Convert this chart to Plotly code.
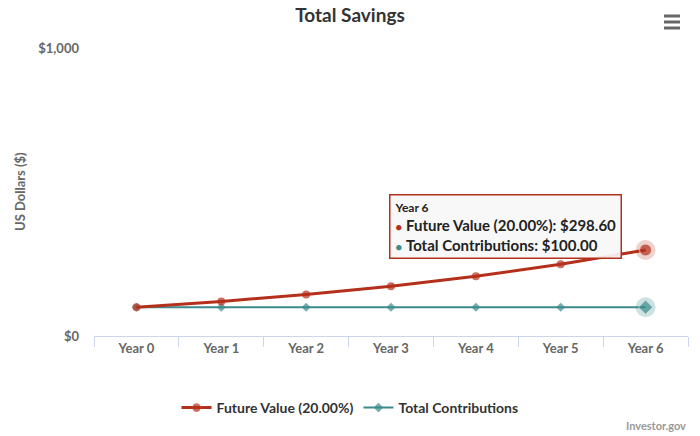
import plotly.graph_objects as go

years = ["Year 0", "Year 1", "Year 2", "Year 3", "Year 4", "Year 5", "Year 6"]
future_value = [100.00, 120.00, 144.00, 172.80, 207.36, 248.83, 298.60]
contributions = [100.00, 100.00, 100.00, 100.00, 100.00, 100.00, 100.00]
y_ticks = [0, 1000]
y_tick_labels = ["<b>$0</b>", "<b>$1,000</b>"]
x_tick_labels = ["<b>" + y + "</b>" for y in years]

RED = "#b5301b"
TEAL = "#3d8a8c"
FONT = "Lato, Open Sans, DejaVu Sans, sans-serif"

fig = go.Figure()

fig.add_trace(go.Scatter(x=years, y=contributions, mode="lines+markers",
                         name="<b>Total Contributions</b>",
                         line=dict(color=TEAL, width=2),
                         marker=dict(symbol="diamond", size=[7]*6 + [11], color=TEAL,
                                     line=dict(color="white", width=[0]*6 + [1]))))
fig.add_trace(go.Scatter(x=years, y=future_value, mode="lines+markers",
                         name="<b>Future Value (20.00%)</b>",
                         line=dict(color=RED, width=3),
                         marker=dict(symbol="circle", size=[8]*6 + [12], color=RED,
                                     line=dict(color="white", width=[0]*6 + [1]))))

# hover halos on the last point
fig.add_trace(go.Scatter(x=[years[-1]], y=[future_value[-1]], mode="markers",
                         marker=dict(size=20, color="rgba(181,48,27,0.22)"),
                         showlegend=False, hoverinfo="skip"))
fig.add_trace(go.Scatter(x=[years[-1]], y=[contributions[-1]], mode="markers",
                         marker=dict(size=20, color="rgba(61,138,140,0.25)"),
                         showlegend=False, hoverinfo="skip"))

tooltip = (
    "<span style='font-size:12px'><b>Year 6</b></span><br>"
    f"<span style='color:{RED};font-size:11px'>●</span> <b>Future Value (20.00%): ${future_value[-1]:.2f}</b><br>"
    f"<span style='color:{TEAL};font-size:11px'>●</span> <b>Total Contributions: ${contributions[-1]:.2f}</b>"
)

fig.add_annotation(x=(389 - 94) / 594, y=(336 - 194) / 288, xref="paper", yref="paper",
                   xanchor="left", yanchor="top",
                   text=tooltip, showarrow=False, align="left",
                   font=dict(family=FONT, size=15, color="#222222"),
                   bgcolor="rgba(247,247,247,0.92)", bordercolor=RED, borderwidth=1.5,
                   borderpad=4)

fig.add_annotation(x=1.0, y=(336 - 434) / 288, xref="paper", yref="paper",
                   xanchor="right", yanchor="bottom",
                   text="<b>Investor.gov</b>", showarrow=False,
                   font=dict(family=FONT, size=11, color="#999999"))

# y axis title
fig.add_annotation(x=(20 - 94) / 594, y=0.5, xref="paper", yref="paper",
                   xanchor="center", yanchor="middle", textangle=-90,
                   text="<b>US Dollars ($)</b>", showarrow=False,
                   font=dict(family=FONT, size=13, color="#666666"))

# menu icon
for dy in [16, 22, 28]:
    fig.add_shape(type="line", xref="paper", yref="paper",
                  x0=(664 - 94) / 594, x1=(680 - 94) / 594,
                  y0=(336 - dy) / 288, y1=(336 - dy) / 288,
                  line=dict(color="#666666", width=3))

fig.update_layout(
    width=700, height=436,
    margin=dict(l=94, r=12, t=48, b=100),
    paper_bgcolor="white", plot_bgcolor="white",
    title=dict(text="<b>Total Savings</b>", x=0.5, xanchor="center", y=(436 - 9) / 436, yanchor="top",
               font=dict(family=FONT, size=19, color="#333333")),
    font=dict(family=FONT, color="#666666"),
    showlegend=True,
    legend=dict(orientation="h", x=(350 - 94) / 594, xanchor="center", y=(336 - 408) / 288, yanchor="middle",
                traceorder="reversed", font=dict(family=FONT, size=14, color="#333333"),
                itemwidth=30),
    xaxis=dict(type="category", categoryorder="array", categoryarray=years,
               tickvals=years, ticktext=x_tick_labels,
               range=[-0.5, 6.5], showgrid=False, automargin=False,
               showline=True, linecolor="#ccd6eb", linewidth=1,
               ticks="outside", tickson="boundaries", ticklen=10, tickcolor="#ccd6eb",
               tickfont=dict(family=FONT, size=13, color="#666666")),
    yaxis=dict(range=[0, 1000], tickvals=y_ticks, ticktext=y_tick_labels,
               showgrid=True, gridcolor="#e6e6e6", gridwidth=1, zeroline=False,
               showline=False, ticks="", ticklabelstandoff=14, automargin=False,
               tickfont=dict(family=FONT, size=13, color="#666666")),
)

fig.write_html("out.html")
